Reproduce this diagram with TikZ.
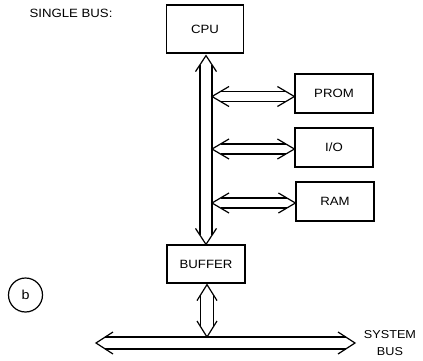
\documentclass[tikz,border=0pt]{standalone}
\usepackage{fontspec}
\setmainfont{Liberation Sans}[FakeStretch=1.1]
\usetikzlibrary{calc}
\newcommand\busarrow[5]{% #1,#2 tips; #3 half shaft; #4 head length; #5 head half width
  \draw ($($(#1)!#4pt!(#2)$)!#5pt!90:(#2)$) -- (#1) -- ($($(#1)!#4pt!(#2)$)!#5pt!-90:(#2)$);
  \draw ($($(#2)!#4pt!(#1)$)!#5pt!90:(#1)$) -- (#2) -- ($($(#2)!#4pt!(#1)$)!#5pt!-90:(#1)$);
  \draw ($($(#1)!{#4*#3/#5*1pt}!(#2)$)!#3pt!90:(#2)$) -- ($($(#2)!{#4*#3/#5*1pt}!(#1)$)!#3pt!-90:(#1)$);
  \draw ($($(#1)!{#4*#3/#5*1pt}!(#2)$)!#3pt!-90:(#2)$) -- ($($(#2)!{#4*#3/#5*1pt}!(#1)$)!#3pt!90:(#1)$);
}
\tikzset{
  unit/.style={draw, line width=1.2pt, inner sep=0pt, minimum width=78pt, minimum height=39pt, font=\fontsize{12}{14}\selectfont},
  lbl/.style={inner sep=0pt, font=\fontsize{11.5}{13}\selectfont},
}
\begin{document}
\begin{tikzpicture}[x=1pt, y=-1pt, line width=1.2pt, line join=miter]
\useasboundingbox (0,0) rectangle (423,361);
\node[lbl, font=\fontsize{12}{14}\selectfont] (title) at (71,13) {SINGLE BUS:};
\node[unit, minimum width=77pt, minimum height=48pt] (cpu) at (205,29) {CPU};
\node[unit] (prom) at (334,93.5) {PROM};
\node[unit] (io) at (334,147.5) {I/O};
\node[unit] (ram) at (335,201.5) {RAM};
\node[unit, minimum height=38pt] (buffer) at (206,264) {BUFFER};
\node[draw, circle, line width=1.2pt, minimum size=34pt, inner sep=0pt, font=\fontsize{13}{15}\selectfont] (b) at (25.5,295) {b};
\node[lbl] (system) at (390,335) {SYSTEM};
\node[lbl] (bus) at (390,352) {BUS};
% main bus
\coordinate (bustop) at ($(cpu.south)+(1,2)$);
\coordinate (busbot) at (buffer.north);
\busarrow{bustop}{busbot}{6}{16}{10.5}
% side taps
\coordinate (promR) at ($(prom.west)+(0,3)$);
\coordinate (promL) at ($(promR -| bustop)+(6,0)$);
\busarrow{promL}{promR}{5}{17}{10}
\coordinate (ioR) at ($(io.west)+(0,1.5)$);
\coordinate (ioL) at ($(ioR -| bustop)+(6,0)$);
\busarrow{ioL}{ioR}{5}{17}{10}
\coordinate (ramR) at ($(ram.west)+(0,1.5)$);
\coordinate (ramL) at ($(ramR -| bustop)+(6,0)$);
\busarrow{ramL}{ramR}{5}{17}{10}
% system bus
\coordinate (sysL) at (96,343);
\coordinate (sysR) at (355,343);
\busarrow{sysL}{sysR}{6}{17}{11}
\coordinate (bufbot) at ($(buffer.south)+(1,1)$);
\coordinate (sysjoin) at (207,337);
\busarrow{bufbot}{sysjoin}{6.5}{16}{10}
\end{tikzpicture}
\end{document}
